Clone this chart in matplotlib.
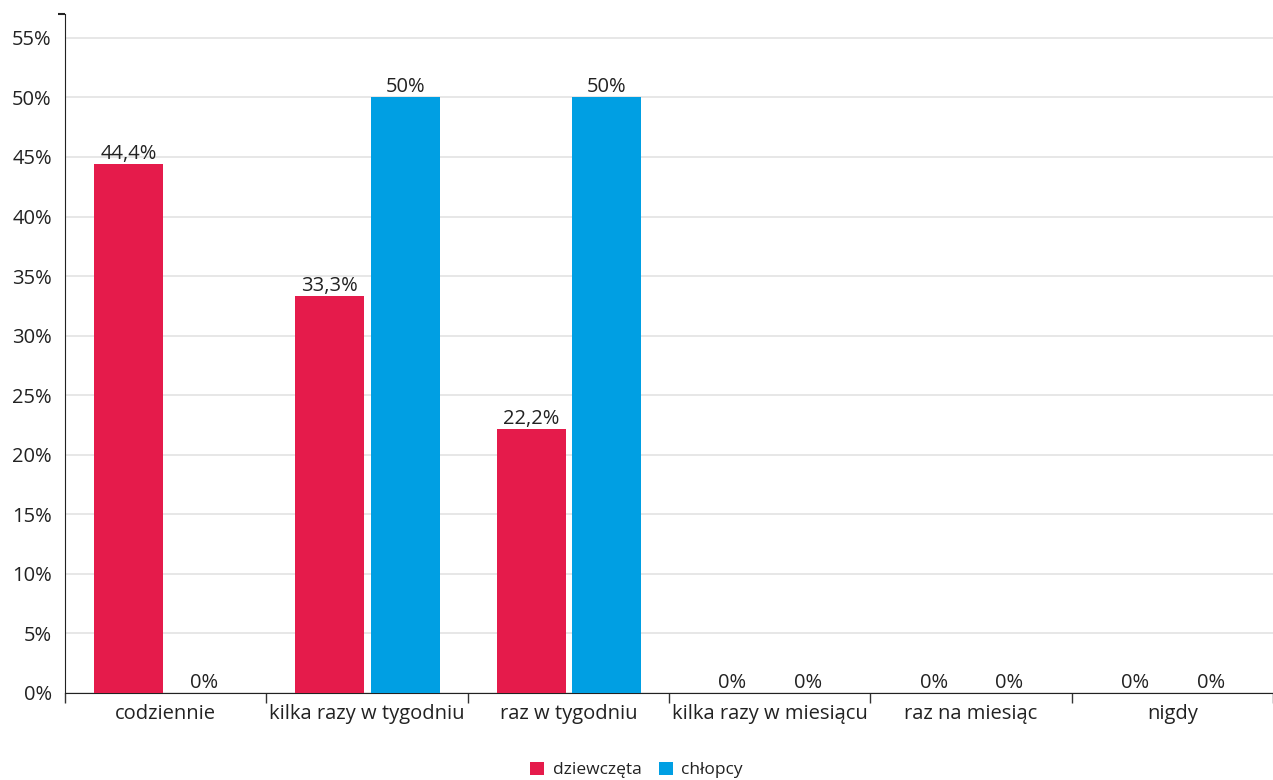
import matplotlib.pyplot as plt
import numpy as np
from matplotlib.ticker import FixedLocator, FuncFormatter

plt.rcParams['font.family'] = ['Open Sans', 'DejaVu Sans']

categories = ['codziennie', 'kilka razy w tygodniu', 'raz w tygodniu',
              'kilka razy w miesiącu', 'raz na miesiąc', 'nigdy']
girls = [44.4, 33.3, 22.2, 0, 0, 0]
boys = [0, 50, 50, 0, 0, 0]
series_names = ['dziewczęta', 'chłopcy']
colors = ['#E51B4B', '#009FE3']


def pct_label(v):
    if float(v).is_integer():
        return f'{int(v)}%'
    return f'{v:.1f}%'.replace('.', ',')


fig = plt.figure(figsize=(12.73, 7.8), dpi=100)
ax = fig.add_axes([65 / 1273, 1 - 693 / 780, 1 - 65 / 1273, (693 - 14) / 780])

x = np.arange(len(categories))
width = 0.343
offsets = [-0.185, 0.19]

for vals, off, col, name in zip([girls, boys], offsets, colors, series_names):
    bars = ax.bar(x + off, vals, width, color=col, label=name, zorder=3)
    for b, v in zip(bars, vals):
        ax.text(b.get_x() + b.get_width() / 2, v, pct_label(v),
                ha='center', va='bottom', fontsize=14.5, color='#222222', zorder=4)

ax.set_xlim(-0.5, 5.45)
ax.set_ylim(0, 57)

ax.yaxis.set_major_locator(FixedLocator(np.arange(0, 56, 5)))
ax.yaxis.set_major_formatter(FuncFormatter(lambda v, p: f'{int(v)}%'))
ax.yaxis.set_minor_locator(FixedLocator([0, 57]))
ax.grid(axis='y', color='#e3e3e3', linewidth=1.2, zorder=0)
ax.tick_params(axis='y', which='major', length=0, pad=9.5, labelsize=14.5, labelcolor='#222222')
ax.tick_params(axis='y', which='minor', length=5, width=1.5, color='#222222')

ax.set_xticks(x)
ax.set_xticklabels(categories)
ax.set_xticks(np.arange(-0.5, 6, 1), minor=True)
ax.tick_params(axis='x', which='major', length=0, pad=8, labelsize=14.5, labelcolor='#222222')
ax.tick_params(axis='x', which='minor', length=7, width=1, color='#333333')

for s in ['top', 'right']:
    ax.spines[s].set_visible(False)
ax.spines['left'].set_color('#222222')
ax.spines['bottom'].set_color('#222222')

fig.legend(loc='center', bbox_to_anchor=(0.5, 1 - 770 / 780), ncol=2, frameon=False,
           fontsize=12.5, handlelength=0.8, handleheight=0.8, handletextpad=0.5,
           columnspacing=1.0, labelcolor='#222222')

fig.savefig('out.png', dpi=100)
